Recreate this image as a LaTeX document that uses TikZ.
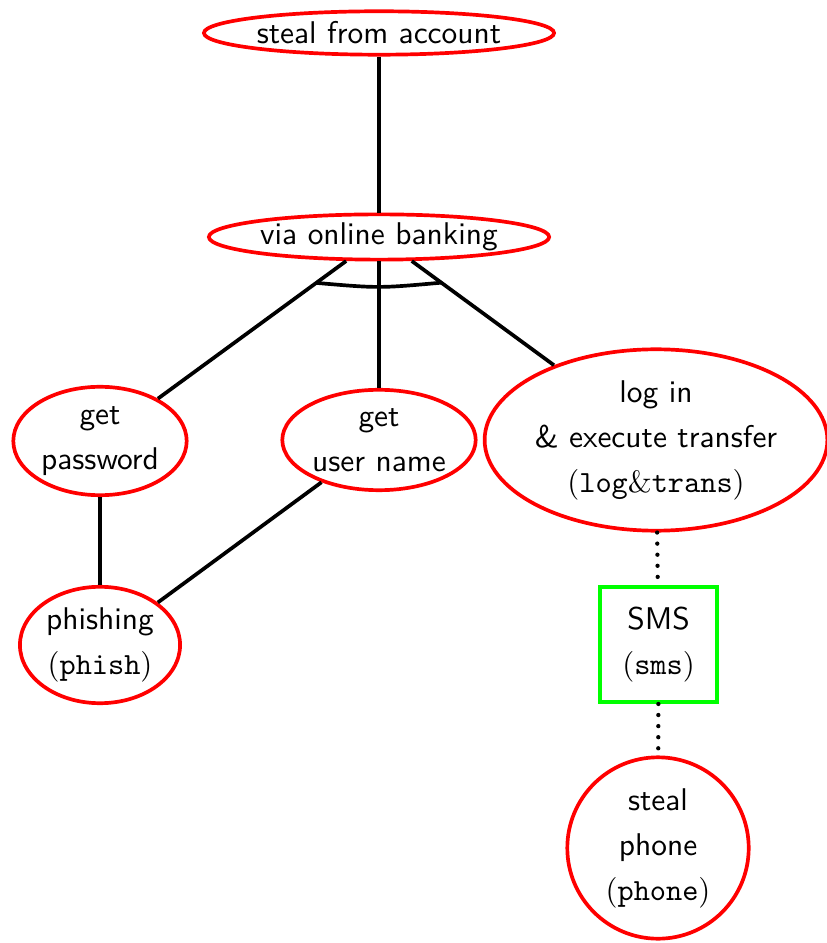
\documentclass[tikz,border=0pt]{standalone}
\usetikzlibrary{shapes.geometric,calc}
\begin{document}
\begin{tikzpicture}[x=0.3247pt,y=-0.3247pt,
  every node/.style={font=\sffamily\fontsize{10.2}{14.6}\selectfont, align=center, inner sep=0pt},
  goal/.style={ellipse, draw=red, line width=1.2pt},
  ctrl/.style={rectangle, draw=green, line width=1.2pt},
  edge/.style={line width=1.2pt},
  dots/.style={line width=1.4pt, line cap=round, dash pattern=on 0pt off 3.6pt}]
\useasboundingbox (0,0) rectangle (826,943);
\node[goal, minimum width=113.7pt, minimum height=14.1pt] (steal) at (379,33) {steal from account};
\node[goal, minimum width=110.5pt, minimum height=14.7pt] (via) at (379,237) {via online banking};
\node[goal, minimum width=56.3pt, minimum height=35.2pt] (pw) at (100,441) {get\\password};
\node[goal, minimum width=62.8pt, minimum height=32.6pt] (user) at (379,440) {get\\user name};
\node[goal, minimum width=111.1pt, minimum height=58.9pt] (login) at (656,440) {log in\\\& execute transfer\\$(\mathtt{log}\&\mathtt{trans})$};
\node[goal, minimum width=52pt, minimum height=37.8pt] (phish) at (100,645) {phishing\\$(\mathtt{phish})$};
\node[ctrl, minimum width=38.1pt, minimum height=37.4pt] (sms) at (658.5,644.5) {SMS\\$(\mathtt{sms})$};
\node[goal, minimum width=58.9pt, minimum height=58.9pt] (phone) at (658,848) {steal\\phone\\$(\mathtt{phone})$};
\draw[edge] (steal) -- (via);
\draw[edge] (via) -- (pw);
\draw[edge] (via) -- (user);
\draw[edge] (via) -- (login);
\draw[edge] (pw) -- (phish);
\draw[edge] (user) -- (phish);
\coordinate (a1) at ($(via.center)!0.225!(pw.center)$);
\coordinate (a2) at ($(via.center)!0.225!(login.center)$);
\draw[edge] (a1) .. controls ($(a1)!0.5!(a2)+(0,5.5)$) .. (a2);
\draw[dots] (login) -- (sms);
\draw[dots] (sms) -- (phone);
\end{tikzpicture}
\end{document}
